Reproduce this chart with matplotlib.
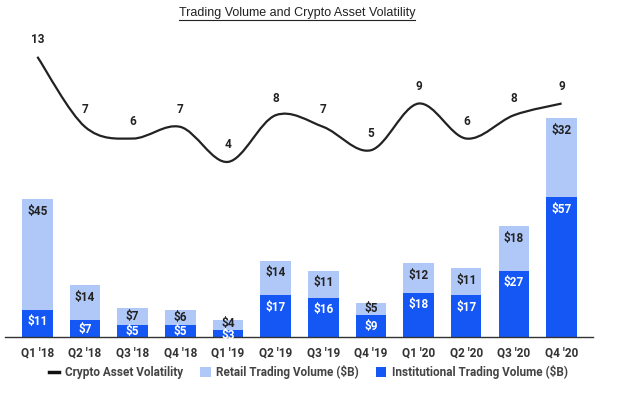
import matplotlib
matplotlib.use("Agg")
import matplotlib.pyplot as plt
from matplotlib.path import Path
from matplotlib.patches import PathPatch, Patch
from matplotlib.lines import Line2D

# data
quarters = ["Q1 '18", "Q2 '18", "Q3 '18", "Q4 '18", "Q1 '19", "Q2 '19",
            "Q3 '19", "Q4 '19", "Q1 '20", "Q2 '20", "Q3 '20", "Q4 '20"]
institutional = [11, 7, 5, 5, 3, 17, 16, 9, 18, 17, 27, 57]
retail = [45, 14, 7, 6, 4, 14, 11, 5, 12, 11, 18, 32]
volatility = [13, 7, 6, 7, 4, 8, 7, 5, 9, 6, 8, 9]

INST = '#1557F5'
RETAIL = '#B0C8F8'
TXT = '#222222'

plt.rcParams['font.family'] = ['Roboto', 'DejaVu Sans']


def smooth_path(xs, ys):
    # cubic bezier through every point (catmull-rom style tangents)
    pts = list(zip(xs, ys))
    n = len(pts)
    verts = [pts[0]]
    codes = [Path.MOVETO]
    for i in range(n - 1):
        p0 = pts[max(i - 1, 0)]
        p1 = pts[i]
        p2 = pts[i + 1]
        p3 = pts[min(i + 2, n - 1)]
        c1 = (p1[0] + (p2[0] - p0[0]) / 6, p1[1] + (p2[1] - p0[1]) / 6)
        c2 = (p2[0] - (p3[0] - p1[0]) / 6, p2[1] - (p3[1] - p1[1]) / 6)
        verts += [c1, c2, p2]
        codes += [Path.CURVE4] * 3
    return Path(verts, codes)


def main():
    fig = plt.figure(figsize=(6.17, 3.93), dpi=100)
    ax = fig.add_axes([5 / 617, 1 - 337 / 393, 588 / 617, 307 / 393])
    x = list(range(len(quarters)))
    ymax = 125
    px_per_unit = 307 / ymax

    ax.bar(x, institutional, width=0.64, color=INST, zorder=2)
    ax.bar(x, retail, width=0.64, bottom=institutional, color=RETAIL, zorder=2)

    for i in x:
        tot = institutional[i] + retail[i]
        h_r = retail[i] * px_per_unit
        h_i = institutional[i] * px_per_unit
        # label ~12px under each segment top, or mid-segment when short
        r_c = min(12, h_r / 2)
        i_c = h_r + min(12, h_i / 2 + 1)
        gap = i_c - r_c
        if gap < 11.5:
            r_c -= (11.5 - gap) / 2
            i_c += (11.5 - gap) / 2
        ax.annotate(f"${retail[i]}", xy=(i, tot), xytext=(0, -r_c),
                    textcoords='offset pixels', ha='center', va='center',
                    fontsize=8.5, fontweight='bold', color=TXT, zorder=3)
        ax.annotate(f"${institutional[i]}", xy=(i, tot), xytext=(0, -i_c),
                    textcoords='offset pixels', ha='center', va='center',
                    fontsize=8.5, fontweight='bold', color='white', zorder=3)

    ax.set_xlim(-0.68, 11.66)
    ax.set_ylim(0, ymax)
    ax.set_xticks(x)
    ax.set_xticklabels(quarters, fontsize=8.5, fontweight='bold', color='#333333')
    ax.tick_params(axis='x', length=0, pad=7)
    ax.set_yticks([])
    for s in ['top', 'right', 'left']:
        ax.spines[s].set_visible(False)
    ax.spines['bottom'].set_color('#333333')
    ax.spines['bottom'].set_linewidth(1)

    # volatility line on its own scale
    ax2 = ax.twinx()
    ax2.set_ylim(-11, 15.3)
    ax2.axis('off')
    ax2.add_patch(PathPatch(smooth_path(x, volatility), fill=False,
                            edgecolor='#222222', lw=1.6, zorder=4))
    for i, v in enumerate(volatility):
        ax2.annotate(str(v), xy=(i, v), xytext=(0, 17), textcoords='offset pixels',
                     ha='center', va='center', fontsize=8.5, fontweight='bold',
                     color=TXT,
                     arrowprops=dict(arrowstyle='-', color='#d8d8d8', lw=0.7,
                                     shrinkA=5, shrinkB=0))

    handles = [Line2D([0], [0], color='#111111', lw=2.5),
               Patch(facecolor=RETAIL), Patch(facecolor=INST)]
    labels = ['Crypto Asset Volatility', 'Retail Trading Volume ($B)',
              'Institutional Trading Volume ($B)']
    fig.legend(handles, labels, loc='center', bbox_to_anchor=(0.5, 1 - 372 / 393),
               ncol=3, frameon=False, handlelength=0.9, handleheight=0.9,
               handletextpad=0.5, columnspacing=1.4,
               prop={'size': 8.5, 'weight': 'bold'}, labelcolor='#444444')

    title = fig.text(297 / 617, 1 - 13 / 393, 'Trading Volume and Crypto Asset Volatility',
                     ha='center', va='center', fontsize=9, color=TXT,
                     family=['Liberation Sans', 'DejaVu Sans'])
    fig.canvas.draw()
    bb = title.get_window_extent()
    fig.add_artist(Line2D([bb.x0 / 617, bb.x1 / 617],
                          [(bb.y0 - 1) / 393, (bb.y0 - 1) / 393],
                          color=TXT, lw=0.8, transform=fig.transFigure))

    fig.savefig('out.png', dpi=100)


if __name__ == '__main__':
    main()
